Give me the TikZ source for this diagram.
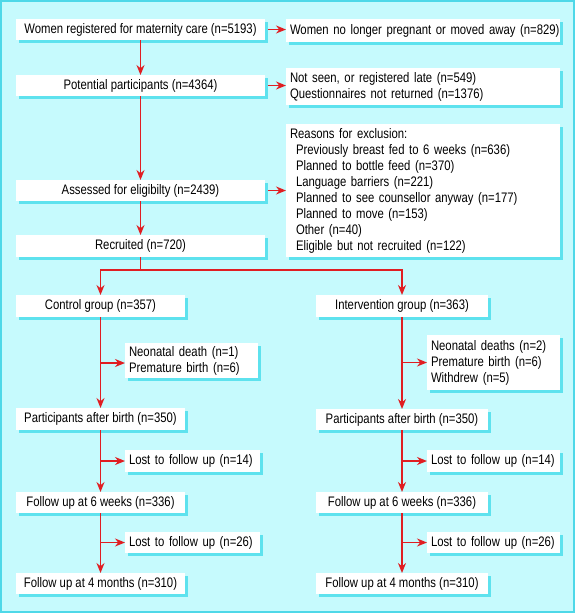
\documentclass[tikz,border=0pt]{standalone}
\usepackage{fontspec}
\setmainfont[FakeStretch=0.82]{Liberation Sans}
\usetikzlibrary{arrows.meta,shadows}

\definecolor{bgcyan}{HTML}{C6FAFD}
\definecolor{shadecyan}{HTML}{5EE2EE}
\definecolor{framecyan}{HTML}{4ED8E8}
\definecolor{arrowred}{HTML}{E01E22}

\tikzset{
  box/.style={fill=white, anchor=north west, inner sep=0pt, outer sep=0pt,
    font=\fontsize{13.8}{16}\selectfont,
    drop shadow={shadow xshift=3pt, shadow yshift=-3pt, fill=shadecyan, opacity=1}},
  mainbox/.style={box, align=center},
  sidebox/.style={box, align=left, text width=#1, inner xsep=4pt},
  flow/.style={draw=arrowred, line width=1.6pt, -{Stealth[length=10pt,width=8pt]}},
  link/.style={draw=arrowred, line width=1.6pt}
}

\begin{document}
\begin{tikzpicture}[x=1pt, y=-1pt]
% background and frame
\draw[fill=bgcyan, draw=framecyan, line width=2pt] (1,1) rectangle (574,612);
\useasboundingbox (0,0) rectangle (576,614);

% main column
\node[mainbox, minimum width=249pt, minimum height=21pt] (reg) at (16,19) {Women registered for maternity care (n=5193)};
\node[mainbox, minimum width=249pt, minimum height=21pt] (pot) at (16,75) {Potential participants (n=4364)};
\node[mainbox, minimum width=249pt, minimum height=21pt] (elig) at (16,180) {Assessed for eligibilty (n=2439)};
\node[mainbox, minimum width=249pt, minimum height=22pt] (rec) at (16,235) {Recruited (n=720)};

% exclusions
\node[sidebox=266pt, minimum height=23pt] (moved) at (286,19) {\mbox{Women no longer pregnant or moved away (n=829)}};
\node[sidebox=266pt, minimum height=37pt] (late) at (286,68) {Not seen, or registered late (n=549)\\Questionnaires not returned (n=1376)};
\node[sidebox=266pt, minimum height=133pt] (excl) at (286,124) {Reasons for exclusion:\\
  \hspace*{6pt}Previously breast fed to 6 weeks (n=636)\\
  \hspace*{6pt}Planned to bottle feed (n=370)\\
  \hspace*{6pt}Language barriers (n=221)\\
  \hspace*{6pt}Planned to see counsellor anyway (n=177)\\
  \hspace*{6pt}Planned to move (n=153)\\
  \hspace*{6pt}Other (n=40)\\
  \hspace*{6pt}Eligible but not recruited (n=122)};

% control arm
\node[mainbox, minimum width=169pt, minimum height=22pt] (ctrl) at (16,295) {Control group (n=357)};
\node[sidebox=125pt, minimum height=35pt] (ctrlloss) at (125,343) {Neonatal death (n=1)\\Premature birth (n=6)};
\node[mainbox, minimum width=169pt, minimum height=22pt] (ctrlbirth) at (16,408) {Participants after birth (n=350)};
\node[sidebox=127pt, minimum height=22pt] (ctrllost1) at (125,450) {\mbox{Lost to follow up (n=14)}};
\node[mainbox, minimum width=169pt, minimum height=21pt] (ctrlsix) at (16,492) {Follow up at 6 weeks (n=336)};
\node[sidebox=127pt, minimum height=21pt] (ctrllost2) at (125,532) {\mbox{Lost to follow up (n=26)}};
\node[mainbox, minimum width=169pt, minimum height=21pt] (ctrlfour) at (16,573) {Follow up at 4 months (n=310)};

% intervention arm
\node[mainbox, minimum width=172pt, minimum height=22pt] (intv) at (316,295) {Intervention group (n=363)};
\node[sidebox=125pt, minimum height=55pt] (intvloss) at (427,335) {Neonatal deaths (n=2)\\Premature birth (n=6)\\Withdrew (n=5)};
\node[mainbox, minimum width=172pt, minimum height=21pt] (intvbirth) at (316,409) {Participants after birth (n=350)};
\node[sidebox=125pt, minimum height=22pt] (intvlost1) at (427,450) {\mbox{Lost to follow up (n=14)}};
\node[mainbox, minimum width=172pt, minimum height=21pt] (intvsix) at (316,492) {Follow up at 6 weeks (n=336)};
\node[sidebox=125pt, minimum height=21pt] (intvlost2) at (427,532) {\mbox{Lost to follow up (n=26)}};
\node[mainbox, minimum width=172pt, minimum height=21pt] (intvfour) at (316,573) {Follow up at 4 months (n=310)};

% arrows down the main column
\draw[flow] (reg) -- (pot);
\draw[flow] (pot) -- (elig);
\draw[flow] (elig) -- (rec);
\draw[flow] ([xshift=3pt]reg.east) -- (reg.east -| moved.west);
\draw[flow] ([xshift=3pt]pot.east) -- (pot.east -| late.west);
\draw[flow] ([xshift=3pt]elig.east) -- (elig.east -| excl.west);

% randomisation split
\coordinate (split) at (rec.south |- 0,270);
\draw[link] (rec.south) -- (split);
\draw[flow] (split) -| (ctrl.north);
\draw[flow] (split) -| (intv.north);

% control arm arrows
\coordinate (c1) at (ctrl.south |- 0,363);
\coordinate (c2) at (ctrl.south |- ctrllost1.west);
\coordinate (c3) at (ctrl.south |- ctrllost2.west);
\draw[flow] (ctrl.south) -- (ctrlbirth.north);
\draw[flow] (ctrlbirth.south) -- (ctrlsix.north);
\draw[flow] (ctrlsix.south) -- (ctrlfour.north);
\draw[flow] (c1) -- (c1 -| ctrlloss.west);
\draw[flow] (c2) -- (ctrllost1.west);
\draw[flow] (c3) -- (ctrllost2.west);

% intervention arm arrows
\coordinate (i1) at (intv.south |- intvloss.west);
\coordinate (i2) at (intv.south |- intvlost1.west);
\coordinate (i3) at (intv.south |- intvlost2.west);
\draw[flow] (intv.south) -- (intvbirth.north);
\draw[flow] (intvbirth.south) -- (intvsix.north);
\draw[flow] (intvsix.south) -- (intvfour.north);
\draw[flow] (i1) -- (intvloss.west);
\draw[flow] (i2) -- (intvlost1.west);
\draw[flow] (i3) -- (intvlost2.west);
\end{tikzpicture}
\end{document}
